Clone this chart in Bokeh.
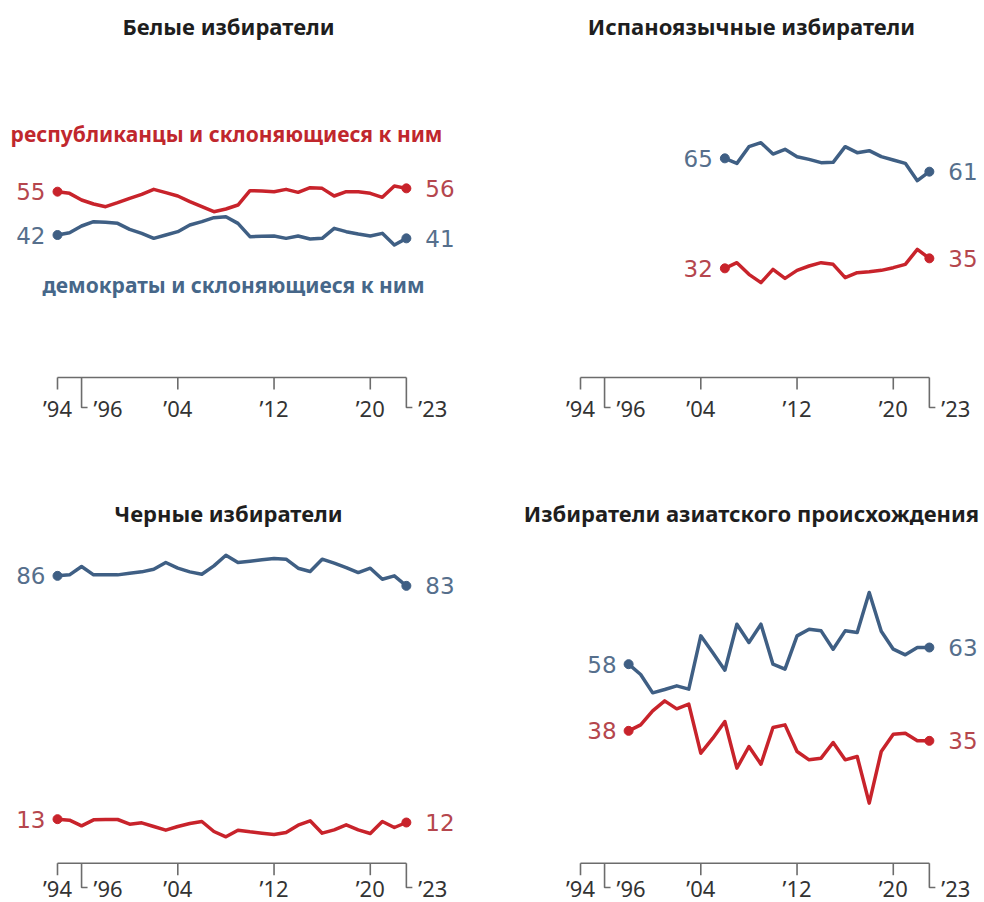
from bokeh.plotting import figure
from bokeh.layouts import column, row
from bokeh.models import Range1d, Label, ColumnDataSource
from bokeh.core.properties import value
from bokeh.embed import file_html
from bokeh.resources import INLINE

# ---------------- data ----------------
years_all = list(range(1994, 2024))
white_rep = [55, 54.5, 52.5, 51.3, 50.5, 51.7, 53, 54.2, 55.7, 54.7, 53.7, 52, 50.5, 49, 49.8,
             51, 55.3, 55.2, 55, 55.7, 54.8, 56.2, 56, 53.7, 55, 55, 54.5, 53.3, 56.7, 56]
white_dem = [42, 42.7, 44.7, 46, 45.8, 45.5, 43.7, 42.5, 41, 42, 43, 45, 46, 47.2, 47.5,
             45.5, 41.5, 41.6, 41.7, 41, 41.7, 40.8, 41, 44, 43, 42.3, 41.7, 42.5, 39, 41]

hisp_years = list(range(2006, 2024))
hisp_dem = [65, 63.5, 68.5, 69.7, 66.3, 67.7, 65.5, 64.7, 63.7, 63.8, 68.5, 66.7, 67.3, 65.5,
            64.5, 63.5, 58.3, 61]
hisp_rep = [32, 33.7, 30.2, 27.7, 31.7, 29, 31.4, 32.7, 33.7, 33.2, 29.2, 30.7, 31, 31.4,
            32.2, 33.2, 37.7, 35]

black_dem = [86, 86.3, 88.8, 86.3, 86.3, 86.3, 86.8, 87.2, 88, 90, 88.3, 87.2, 86.5, 89, 92.2,
             90, 90.4, 90.8, 91.2, 91, 88.3, 87.3, 91, 89.8, 88.5, 87, 88.3, 85, 86, 83]
black_rep = [13, 12.7, 11, 12.8, 12.9, 12.9, 11.5, 11.9, 10.8, 9.7, 10.8, 11.7, 12.3, 9.3, 7.7,
             9.7, 9.2, 8.8, 8.4, 9, 11.2, 12.5, 8.8, 9.8, 11.3, 9.8, 8.7, 12.3, 10.5, 12]

asian_years = list(range(1998, 2024))
asian_dem = [58, 54.9, 49.4, 50.4, 51.5, 50.5, 66.5, 61.4, 56.2, 70, 64.5, 70, 58, 56.5, 66.5,
             68.5, 68, 62.5, 68, 67.5, 79.5, 67.9, 62.5, 60.8, 63, 63]
asian_rep = [38, 39.8, 44, 47, 44.6, 46, 31.3, 35.8, 40.8, 26.8, 33.3, 28, 39, 39.8, 31.8,
             29.3, 29.8, 34.5, 29.3, 30.3, 16.3, 31.8, 37, 37.3, 35, 35]

tick_years = [1994, 1996, 2004, 2012, 2020, 2023]
tick_labels = ["\u201994", "\u201996", "\u201904", "\u201912", "\u201920", "\u201923"]
elbow_years = [1996, 2023]

titles = ["Белые избиратели", "Испаноязычные избиратели",
          "Черные избиратели", "Избиратели азиатского происхождения"]
legend_rep = "республиканцы и склоняющиеся к ним"
legend_dem = "демократы и склоняющиеся к ним"

# ---------------- style ----------------
RED = "#c8232b"
BLUE = "#3f5f84"
RED_LAB = "#b5464d"
BLUE_LAB = "#566f8c"
AXIS_C = "#6c6c6c"
TICK_TXT = "#333333"
PX_YR = 12.03
PX_PT = 3.333
FONT = "Noto Sans"
NUM_FONT = "DejaVu Sans"


def make_panel(title, W, H, series, x0_px, title_cx, title_px, y0_px, axis_px, lab_px,
               legend=False):
    def vy(px):
        return (y0_px - px) / PX_PT

    def vx(px):
        return 1994 + (px - x0_px) / PX_YR

    p = figure(width=W, height=H, output_backend="svg", toolbar_location=None,
               x_range=Range1d(vx(0), vx(W)), y_range=Range1d(vy(H), vy(0)),
               x_axis_location=None, y_axis_location=None, title=None,
               min_border=0, min_border_left=0, min_border_right=0,
               min_border_top=0, min_border_bottom=0,
               outline_line_color=None, background_fill_color="white",
               border_fill_color="white")
    p.xgrid.visible = False
    p.ygrid.visible = False

    # title
    p.add_layout(Label(x=vx(title_cx), y=vy(title_px), text=title, text_align="center",
                       text_baseline="middle", text_font=FONT, text_font_style="bold",
                       text_font_size="22px", text_color="#1e1e1e"))

    # axis
    ya = vy(axis_px)
    p.segment(x0=[tick_years[0]], y0=[ya], x1=[tick_years[-1]], y1=[ya],
              line_color=AXIS_C, line_width=1.6)
    norm = [t for t in tick_years if t not in elbow_years]
    p.segment(x0=norm, y0=[ya] * len(norm), x1=norm, y1=[vy(axis_px + 12)] * len(norm),
              line_color=AXIS_C, line_width=1.6)
    el_y = vy(lab_px)
    p.multi_line(xs=[[t, t, t + 6 / PX_YR] for t in elbow_years],
                 ys=[[ya, el_y, el_y] for _ in elbow_years],
                 line_color=AXIS_C, line_width=1.6)
    nl = [tick_labels[i] for i, t in enumerate(tick_years) if t not in elbow_years]
    el = [tick_labels[i] for i, t in enumerate(tick_years) if t in elbow_years]
    p.text(x=norm, y=[vy(lab_px)] * len(norm), text=nl, text_align="center",
           text_baseline="middle", text_font=value(FONT), text_font_size="22px",
           text_color=TICK_TXT)
    p.text(x=elbow_years, y=[vy(lab_px)] * len(elbow_years), text=el, text_align="left",
           text_baseline="middle", x_offset=12, text_font=value(FONT),
           text_font_size="22px", text_color=TICK_TXT)

    for yrs, vals, col, lcol in series:
        src = ColumnDataSource(dict(x=yrs, y=vals))
        p.line("x", "y", source=src, line_color=col, line_width=3.5, line_join="round",
               line_cap="round")
        p.scatter(x=[yrs[0], yrs[-1]], y=[vals[0], vals[-1]], size=9,
                  fill_color=col, line_color=col)
        p.text(x=[yrs[0]], y=[vals[0]], text=[str(int(round(vals[0])))],
               x_offset=-12, text_align="right", text_baseline="middle",
               text_font=value(NUM_FONT), text_font_size="23px", text_color=lcol)
        p.text(x=[yrs[-1]], y=[vals[-1]], text=[str(int(round(vals[-1])))],
               x_offset=19, text_align="left", text_baseline="middle",
               text_font=value(NUM_FONT), text_font_size="23px", text_color=lcol)

    if legend:
        p.add_layout(Label(x=vx(226), y=vy(133), text=legend_rep, text_align="center",
                           text_baseline="middle", text_font=FONT, text_font_style="bold",
                           text_font_size="21px", text_color="#c0272d"))
        p.add_layout(Label(x=vx(233), y=vy(284), text=legend_dem, text_align="center",
                           text_baseline="middle", text_font=FONT, text_font_style="bold",
                           text_font_size="21px", text_color="#466789"))
    return p


W1, W2 = 521, 463
H1, H2 = 495, 407

p1 = make_panel(titles[0], W1, H1,
                [(years_all, white_rep, RED, RED_LAB), (years_all, white_dem, BLUE, BLUE_LAB)],
                57, 228, 25, 374.5, 377, 407, legend=True)
p2 = make_panel(titles[1], W2, H1,
                [(hisp_years, hisp_dem, BLUE, BLUE_LAB), (hisp_years, hisp_rep, RED, RED_LAB)],
                59, 230, 25, 374.5, 377, 407)
p3 = make_panel(titles[2], W1, H2,
                [(years_all, black_dem, BLUE, BLUE_LAB), (years_all, black_rep, RED, RED_LAB)],
                57, 228, 17, 367, 367.7, 392)
p4 = make_panel(titles[3], W2, H2,
                [(asian_years, asian_dem, BLUE, BLUE_LAB), (asian_years, asian_rep, RED, RED_LAB)],
                59, 230, 17, 362, 367.7, 392)

layout = column(row(p1, p2), row(p3, p4))
open("out.html", "w").write(file_html(layout, INLINE))
